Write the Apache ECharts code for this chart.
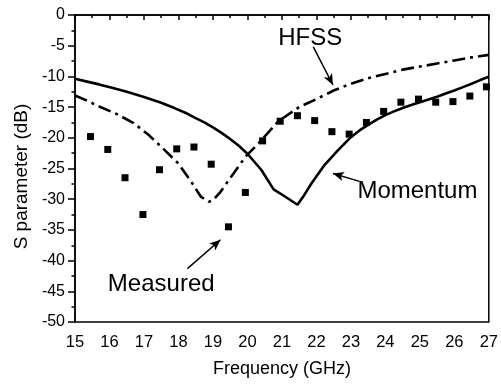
<!DOCTYPE html>
<html>
<head>
<meta charset="utf-8">
<script src="https://cdn.jsdelivr.net/npm/echarts@6/dist/echarts.min.js"></script>
<style>
  html, body { margin: 0; padding: 0; background: #fff; }
  #main { width: 501px; height: 385px; }
</style>
</head>
<body>
<div id="main"></div>
<script>
  // values
  var momentumX = [15, 15.35, 15.7, 16.1, 16.5, 17.0, 17.5, 17.9, 18.25, 18.5, 18.75, 19.0, 19.25, 19.5, 19.75, 20.0, 20.4, 20.76, 21.1, 21.45, 21.65, 21.86, 22.24, 22.63, 23.0, 23.25, 23.5, 23.75, 24.0, 24.25, 24.5, 24.75, 25.0, 25.25, 25.5, 25.75, 26.0, 26.25, 26.5, 26.75, 27.0];
  var momentumY = [-10.4, -10.85, -11.3, -11.9, -12.5, -13.35, -14.3, -15.2, -16.05, -16.8, -17.5, -18.3, -19.2, -20.2, -21.3, -22.6, -25.2, -28.4, -29.6, -30.9, -29.3, -27.4, -24.4, -22.0, -19.9, -18.8, -17.9, -17.05, -16.3, -15.7, -15.15, -14.65, -14.2, -13.75, -13.3, -12.8, -12.3, -11.75, -11.2, -10.6, -10.05];

  var hfssX = [15, 15.35, 15.7, 16.2, 16.7, 17.15, 17.6, 18.0, 18.4, 18.65, 18.88, 19.0, 19.22, 19.56, 19.94, 20.32, 20.9, 21.5, 22.0, 22.5, 23.0, 23.5, 24.0, 24.5, 25.0, 25.5, 26.0, 26.5, 27.0];
  var hfssY = [-13.1, -13.95, -14.9, -16.1, -17.6, -19.6, -22.0, -24.2, -27.4, -29.6, -30.4, -30.2, -28.8, -26.1, -23.1, -20.9, -17.3, -15.0, -13.7, -12.3, -11.2, -10.3, -9.6, -8.9, -8.4, -7.9, -7.4, -6.9, -6.5];

  var measuredX = [15.45, 15.95, 16.45, 16.97, 17.45, 17.95, 18.45, 18.95, 19.45, 19.94, 20.44, 20.95, 21.45, 21.95, 22.45, 22.95, 23.45, 23.95, 24.45, 24.96, 25.46, 25.96, 26.45, 26.93];
  var measuredY = [-19.8, -21.9, -26.5, -32.5, -25.2, -21.8, -21.5, -24.3, -34.5, -28.9, -20.5, -17.3, -16.4, -17.2, -19.0, -19.4, -17.5, -15.7, -14.2, -13.7, -14.2, -14.1, -13.2, -11.7];

  // annotation labels and arrows, in data coordinates
  var labelNames = ['HFSS', 'Momentum', 'Measured'];
  var labelPos = [[21.82, -3.75], [24.93, -28.8], [17.5, -43.8]];
  var arrowFrom = [[21.91, -5.2], [23.25, -27.1], [18.26, -41.3]];
  var arrowTo = [[22.48, -11.4], [22.48, -25.8], [19.22, -36.6]];

  function pairs(xs, ys) {
    return xs.map(function (x, i) { return [x, ys[i]]; });
  }

  var font = 'Liberation Sans, Arial, sans-serif';
  var myChart = echarts.init(document.getElementById('main'));

  var option = {
    animation: false,
    grid: {
      left: 75, right: 9, top: 15, bottom: 63,
      show: true, borderColor: '#000', borderWidth: 1.5
    },
    xAxis: {
      type: 'value', min: 15, max: 27, interval: 1,
      name: 'Frequency (GHz)', nameLocation: 'middle', nameGap: 38,
      nameTextStyle: { fontFamily: font, fontSize: 18, color: '#000' },
      axisLine: { lineStyle: { color: '#000', width: 1.5 } },
      axisTick: { length: 5, lineStyle: { color: '#000', width: 1.5 } },
      minorTick: { show: true, splitNumber: 2, length: 3, lineStyle: { color: '#000', width: 1.5 } },
      axisLabel: { fontFamily: font, fontSize: 16.5, color: '#000', margin: 12 },
      splitLine: { show: false }
    },
    yAxis: {
      type: 'value', min: -50, max: 0, interval: 5,
      name: 'S parameter (dB)', nameLocation: 'middle', nameGap: 42,
      nameTextStyle: { fontFamily: font, fontSize: 19, color: '#000', padding: [0, 16, 0, 0] },
      axisLine: { lineStyle: { color: '#000', width: 1.5 } },
      axisTick: { length: 7, lineStyle: { color: '#000', width: 1.5 } },
      minorTick: { show: true, splitNumber: 2, length: 3.5, lineStyle: { color: '#000', width: 1.5 } },
      axisLabel: { fontFamily: font, fontSize: 16, color: '#000', margin: 10 },
      splitLine: { show: false }
    },
    series: [
      {
        name: 'Momentum', type: 'line', data: pairs(momentumX, momentumY),
        showSymbol: false, symbol: 'none',
        lineStyle: { color: '#000', width: 2.6 },
        markLine: {
          silent: true, symbol: ['none', 'arrow'], symbolSize: [7, 11],
          label: { show: false },
          lineStyle: { color: '#000', width: 1.5, type: 'solid' },
          data: arrowFrom.map(function (f, i) {
            return [{ coord: f }, { coord: arrowTo[i] }];
          })
        },
        markPoint: {
          silent: true, symbol: 'circle', symbolSize: 0,
          label: {
            show: true, position: 'inside', formatter: '{b}',
            fontFamily: font, fontSize: 24, color: '#000'
          },
          data: labelNames.map(function (n, i) {
            return { name: n, coord: labelPos[i] };
          })
        }
      },
      {
        name: 'HFSS', type: 'line', data: pairs(hfssX, hfssY),
        showSymbol: false, symbol: 'none',
        lineStyle: { color: '#000', width: 2.6, type: [13, 5, 3, 5] }
      },
      {
        name: 'Measured', type: 'scatter', data: pairs(measuredX, measuredY),
        symbol: 'rect', symbolSize: 7,
        itemStyle: { color: '#000', opacity: 1 }
      }
    ]
  };
  myChart.setOption(option);
</script>
</body>
</html>
